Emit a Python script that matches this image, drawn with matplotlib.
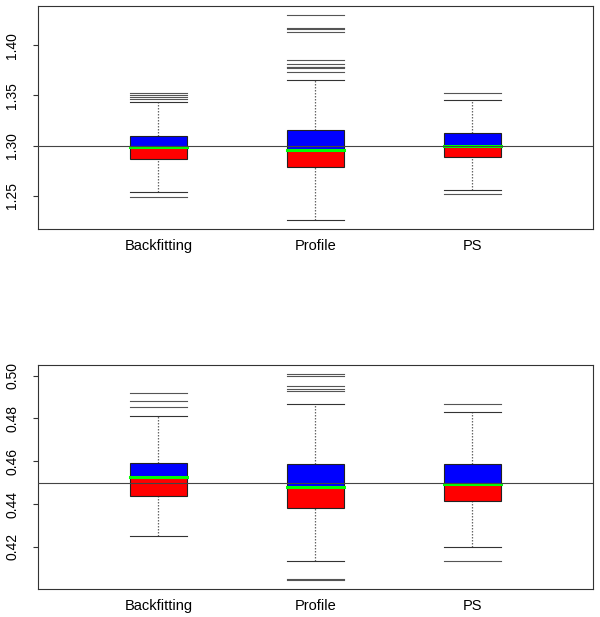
import numpy as np
import matplotlib
matplotlib.use("Agg")
import matplotlib.pyplot as plt

plt.rcParams['font.family'] = ['Liberation Sans', 'DejaVu Sans']

# -----------------------------------------------------------
# data
# -----------------------------------------------------------
labels = ["Backfitting", "Profile", "PS"]

top_q1 = [1.2870, 1.2790, 1.2890]
top_med = [1.2987, 1.2957, 1.2993]
top_q3 = [1.3100, 1.3156, 1.3126]
top_lo = [1.2535, 1.2256, 1.2555]
top_hi = [1.3438, 1.3650, 1.3451]
top_out = [
    [1.2489, 1.3462, 1.3482, 1.3505, 1.3528],
    [1.3733, 1.3775, 1.3780, 1.3788, 1.3810, 1.3850, 1.4130, 1.4162, 1.4168, 1.4304],
    [1.2522, 1.3521],
]
top_ref = 1.30
top_ticks = [1.25, 1.30, 1.35, 1.40]

bot_q1 = [0.4438, 0.4380, 0.4416]
bot_med = [0.4525, 0.4478, 0.4494]
bot_q3 = [0.4594, 0.4586, 0.4589]
bot_lo = [0.4252, 0.4136, 0.4197]
bot_hi = [0.4812, 0.4866, 0.4832]
bot_out = [
    [0.4853, 0.4884, 0.4919],
    [0.4043, 0.4052, 0.4930, 0.4939, 0.4950, 0.5000, 0.5009],
    [0.4132, 0.4867],
]
bot_ref = 0.45
bot_ticks = [0.42, 0.44, 0.46, 0.48, 0.50]


def draw_panel(ax, q1, med, q3, lo, hi, out, ref, ticks, ylim):
    hw = 0.1815
    for i in range(len(labels)):
        x = i + 1
        # lower half red, upper half blue
        ax.add_patch(plt.Rectangle((x - hw, q1[i]), 2 * hw, med[i] - q1[i],
                                   facecolor="#ff0000", edgecolor="#222222",
                                   lw=0.8, zorder=2))
        ax.add_patch(plt.Rectangle((x - hw, med[i]), 2 * hw, q3[i] - med[i],
                                   facecolor="#0000ff", edgecolor="#222222",
                                   lw=0.8, zorder=2))
        ax.plot([x - hw, x + hw], [med[i], med[i]], color="#00ff00", lw=2.2,
                solid_capstyle="projecting", zorder=3)
        # whiskers (dotted)
        ax.plot([x, x], [q3[i], hi[i]], color="#666666", lw=0.9,
                ls=(0, (1.2, 1.2)), zorder=1)
        ax.plot([x, x], [lo[i], q1[i]], color="#666666", lw=0.9,
                ls=(0, (1.2, 1.2)), zorder=1)
        for v in (lo[i], hi[i]):
            ax.plot([x - hw, x + hw], [v, v], color="#333333", lw=0.8, zorder=1)
        # outliers as horizontal segments
        for v in out[i]:
            ax.plot([x - hw, x + hw], [v, v], color="#555555", lw=0.8, zorder=1)

    ax.axhline(ref, color="#444444", lw=0.8, zorder=4)

    ax.set_xlim(0.2325, 3.7675)
    ax.set_ylim(*ylim)
    ax.set_xticks([1, 2, 3])
    ax.set_xticklabels(labels, fontsize=10.5)
    ax.tick_params(axis="x", length=0, pad=7)
    ax.set_yticks(ticks)
    ax.set_yticklabels([f"{t:.2f}" for t in ticks], fontsize=10,
                       rotation=90, va="center")
    ax.tick_params(axis="y", length=3.6, width=0.8, pad=10, color="#333333")
    for s in ax.spines.values():
        s.set_linewidth(0.8)
        s.set_color("#333333")


fig = plt.figure(figsize=(6.0, 6.17), dpi=100)
ax1 = fig.add_axes([0.0633, 0.6288, 0.925, 0.3614])
ax2 = fig.add_axes([0.0633, 0.0454, 0.925, 0.3630])

draw_panel(ax1, top_q1, top_med, top_q3, top_lo, top_hi, top_out,
           top_ref, top_ticks, (1.217, 1.439))
draw_panel(ax2, bot_q1, bot_med, bot_q3, bot_lo, bot_hi, bot_out,
           bot_ref, bot_ticks, (0.4003, 0.505))

fig.savefig("out.png", dpi=100)
